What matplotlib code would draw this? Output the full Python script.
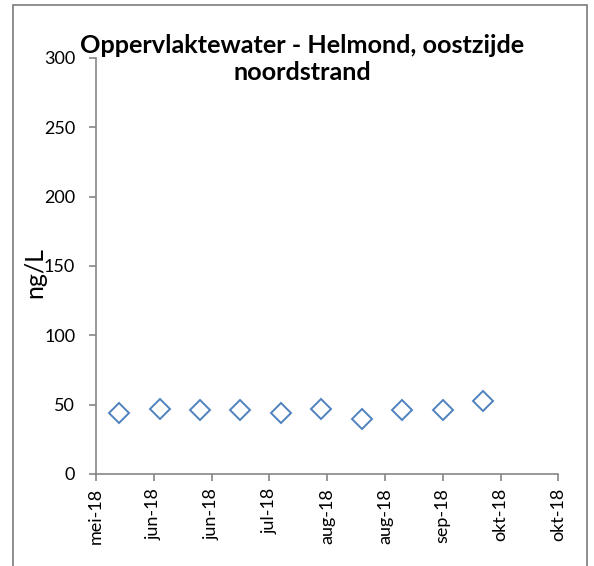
import datetime as dt
import matplotlib
matplotlib.use('Agg')
import matplotlib.pyplot as plt
from matplotlib.patches import Rectangle

# sample dates (biweekly) and measured concentrations
sample_dates = ['2018-05-23', '2018-06-06', '2018-06-20', '2018-07-04', '2018-07-18',
                '2018-08-01', '2018-08-15', '2018-08-29', '2018-09-12', '2018-09-26']
values = [44, 47, 46, 46, 44, 47, 40, 46, 46, 53]

# date axis ticks (every 20 days)
tick_dates = ['2018-05-15', '2018-06-04', '2018-06-24', '2018-07-14', '2018-08-03',
              '2018-08-23', '2018-09-12', '2018-10-02', '2018-10-22']
tick_labels = ['mei-18', 'jun-18', 'jun-18', 'jul-18', 'aug-18',
               'aug-18', 'sep-18', 'okt-18', 'okt-18']
y_ticks = [0, 50, 100, 150, 200, 250, 300]

title = 'Oppervlaktewater - Helmond, oostzijde\nnoordstrand'

plt.rcParams['font.family'] = ['Lato', 'DejaVu Sans']

dates = [dt.datetime.strptime(d, '%Y-%m-%d') for d in sample_dates]
ticks = [dt.datetime.strptime(d, '%Y-%m-%d') for d in tick_dates]

fig = plt.figure(figsize=(5.94, 5.66), dpi=100)
ax = fig.add_axes([96 / 594, 1 - 474 / 566, (558.3 - 96) / 594, (474 - 58) / 566])

ax.plot(dates, values, linestyle='none', marker='D', markersize=10,
        markerfacecolor='none', markeredgecolor='#4F81BD', markeredgewidth=1.4,
        clip_on=False)

ax.set_xlim(ticks[0], ticks[-1])
ax.set_xticks(ticks)
ax.set_xticklabels(tick_labels, rotation=90, fontsize=13)
ax.set_ylim(0, 300)
ax.set_yticks(y_ticks)
ax.set_yticklabels([str(v) for v in y_ticks], fontsize=13)

grey = '#868686'
for side in ['top', 'right']:
    ax.spines[side].set_visible(False)
for side in ['left', 'bottom']:
    ax.spines[side].set_color(grey)
    ax.spines[side].set_linewidth(1.2)
ax.tick_params(axis='both', direction='out', length=5, width=1.2, color=grey)
ax.tick_params(axis='y', pad=10)
ax.tick_params(axis='x', pad=5)

ax.set_ylabel('ng/L', fontsize=18)
ax.yaxis.set_label_coords((35 - 96) / 462.3, (474 - 272) / 416)
ax.yaxis.label.set_va('center')

fig.text(302 / 594, 1 - 59 / 566, title, ha='center', va='center', fontsize=18.2,
         fontweight='bold', linespacing=1.2)

fig.patches.append(Rectangle((12.5 / 594, -0.01), (587 - 12.5) / 594, 1 - 5 / 566 + 0.01,
                             transform=fig.transFigure, fill=False,
                             edgecolor=grey, linewidth=1.3))

fig.savefig('out.png', dpi=100)
